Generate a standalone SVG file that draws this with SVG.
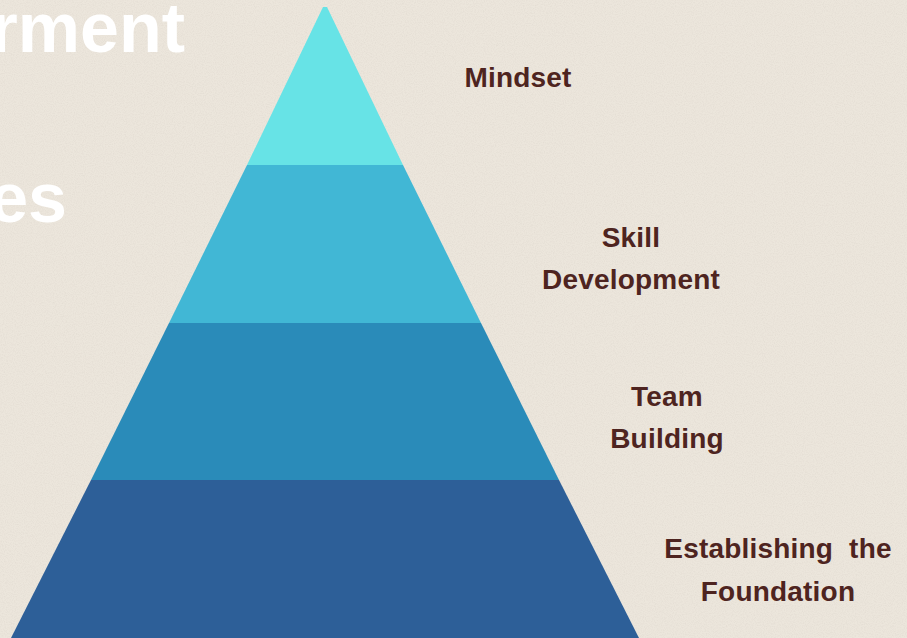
<svg xmlns="http://www.w3.org/2000/svg" width="907" height="638" viewBox="0 0 907 638">
<defs>
<filter id="paper" x="0" y="0" width="100%" height="100%">
<feTurbulence type="fractalNoise" baseFrequency="0.9" numOctaves="2" seed="3" result="n"/>
<feColorMatrix in="n" type="matrix" values="0 0 0 0 0.55  0 0 0 0 0.5  0 0 0 0 0.45  0 0 0 -1.2 0.75" result="c"/>
<feComposite in="c" in2="SourceGraphic" operator="in"/>
</filter>
<style>
.lbl{font-family:"Liberation Sans",Arial,sans-serif;font-weight:bold;font-size:28px;fill:#4e2420;text-anchor:middle;letter-spacing:0.2px}
.big{font-family:"Liberation Sans",Arial,sans-serif;font-weight:bold;font-size:70px;fill:#ffffff;text-anchor:end}
</style>
</defs>
<rect width="907" height="638" fill="#ece6dc"/>
<rect width="907" height="638" fill="#ece6dc" filter="url(#paper)" opacity="0.3"/>
<g id="title">
<text class="big" x="185" y="52">rment</text>
<text class="big" x="67" y="222">es</text>
</g>
<g id="pyramid">
<g id="level1"><polygon points="323,7 327,7 403,165 247,165" fill="#67e3e6"/></g>
<g id="level2"><polygon points="247,165 403,165 481,323 169,323" fill="#41b7d5"/></g>
<g id="level3"><polygon points="169,323 481,323 559,480 91,480" fill="#2a8bb9"/></g>
<g id="level4"><polygon points="91,480 559,480 639,638 11,638" fill="#2d5f98"/></g>
</g>
<g id="connectors"/>
<g id="labels">
<g id="mindset"><text class="lbl" x="518" y="87">Mindset</text></g>
<g id="skill"><text class="lbl" x="631" y="247">Skill</text><text class="lbl" x="631" y="289">Development</text></g>
<g id="team"><text class="lbl" x="667" y="406">Team</text><text class="lbl" x="667" y="448">Building</text></g>
<g id="foundation"><text class="lbl" x="778" y="558" xml:space="preserve">Establishing  the</text><text class="lbl" x="778" y="601">Foundation</text></g>
</g>
</svg>
